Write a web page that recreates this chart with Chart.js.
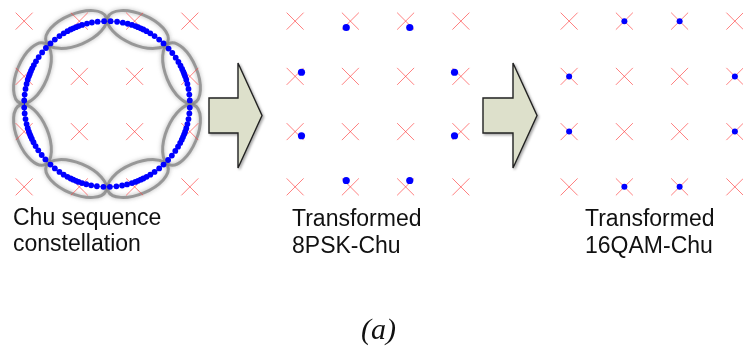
<!DOCTYPE html>
<html>
<head>
<meta charset="utf-8">
<script src="https://cdn.jsdelivr.net/npm/chart.js@4/dist/chart.umd.min.js"></script>
<style>
  html, body { margin: 0; padding: 0; width: 743px; height: 346px; overflow: hidden; background: #fff; }
  .panel { position: absolute; top: 4px; width: 200px; height: 200px; }
  .lbl { position: absolute; font-family: "Liberation Sans", Arial, sans-serif; font-size: 23px; color: #111; white-space: nowrap; }
  .cap { position: absolute; font-family: "Liberation Serif", "Times New Roman", serif; font-style: italic; font-size: 30px; line-height: 34px; color: #111; white-space: nowrap; }
  svg.arrows { position: absolute; left: 0; top: 0; }
</style>
</head>
<body>
<canvas id="c1" class="panel" width="200" height="200" style="left:7px"></canvas>
<canvas id="c2" class="panel" width="200" height="200" style="left:278px"></canvas>
<canvas id="c3" class="panel" width="200" height="200" style="left:552px"></canvas>

<svg class="arrows" width="743" height="346">
  <defs>
    <filter id="sh" x="-20%" y="-20%" width="150%" height="150%">
      <feDropShadow dx="1.5" dy="1.5" stdDeviation="1" flood-color="#000" flood-opacity="0.35"/>
    </filter>
  </defs>
  <polygon points="209,98 238,98 238,63 262,115.5 238,168 238,133 209,133" fill="#dde0cb" stroke="#222" stroke-width="1.4" filter="url(#sh)"/>
  <polygon points="483,98 513,98 513,63 537,115.5 513,168 513,133 483,133" fill="#dde0cb" stroke="#222" stroke-width="1.4" filter="url(#sh)"/>
</svg>

<div class="lbl" style="left:13px; top:205px; line-height:25.5px">Chu sequence<br>constellation</div>
<div class="lbl" style="left:292px; top:205px; line-height:27px">Transformed<br>8PSK-Chu</div>
<div class="lbl" style="left:585px; top:205px; line-height:27px">Transformed<br>16QAM-Chu</div>
<div class="cap" style="left:361px; top:312px">(a)</div>

<script>
// Reference constellation grid (16-point lattice)
const gridLevels = [-3, -1, 1, 3];

// Chu sequence samples: phase angles in degrees on a circle of radius 3
const chuRadius = 3;
const chuAngles = [
  2.5, 6.5, 10.5, 14, 17, 19.5, 21.5, 23, 25, 27.5, 30.5, 34, 38, 42,
  47, 51, 55, 58.5, 61.5, 64, 66, 68, 70, 72.5, 75.5, 79, 83, 87.5,
  92, 96.5, 100.5, 104, 107.5, 110, 112, 114, 116, 118.5, 121.5, 125, 129, 133,
  137.5, 141.5, 145.5, 149, 152, 154.5, 156.5, 158.5, 160.5, 163, 166, 169.5, 173.5, 177.5,
  182.5, 186.5, 190.5, 194, 197, 199.5, 201.5, 203, 205, 207.5, 210.5, 214, 218, 222,
  227, 231, 235, 238.5, 241.5, 244, 246, 248, 250, 252.5, 255.5, 259, 263, 267.5,
  272, 276.5, 280.5, 284, 287.5, 290, 292, 294, 296, 298.5, 301.5, 305, 309, 313,
  317.5, 321.5, 325.5, 329, 332, 334.5, 336.5, 338.5, 340.5, 343, 346, 349.5, 353.5, 357.5
];

// Phase groups highlighted on the Chu circle (centre angle of each group, degrees)
const groupAngles = [22.5, 67.5, 112.5, 157.5, 202.5, 247.5, 292.5, 337.5];

// Transformed 8PSK-Chu points
const pskX = [1.15, 2.77, 2.77, 1.15, -1.15, -2.77, -2.77, -1.15];
const pskY = [2.77, 1.15, -1.15, -2.77, -2.77, -1.15, 1.15, 2.77];

// Transformed 16QAM-Chu points
const qamX = [1, 3, 3, 1, -1, -3, -3, -1];
const qamY = [3, 1, -1, -3, -3, -1, 1, 3];

const gridPoints = [];
gridLevels.forEach(y => gridLevels.forEach(x => gridPoints.push({x, y})));
const chuPoints = chuAngles.map(a => ({
  x: chuRadius * Math.cos(a * Math.PI / 180),
  y: chuRadius * Math.sin(a * Math.PI / 180)
}));
const zip = (xs, ys) => xs.map((x, i) => ({x, y: ys[i]}));

const crossSet = {
  data: gridPoints, pointStyle: 'crossRot', pointRadius: 12, pointBorderWidth: 1,
  pointBorderColor: 'rgba(255,60,60,0.65)', pointBackgroundColor: 'rgba(0,0,0,0)',
  showLine: false, order: 2
};
const dotSet = (pts, r) => ({
  data: pts, pointStyle: 'circle', pointRadius: r, pointBorderWidth: 0,
  pointBackgroundColor: '#0000ff', showLine: false, order: 1
});

// Soft grey ellipses around each phase group, sized in axis units
const groupOutline = {
  id: 'groupOutline',
  beforeDatasetsDraw(chart, args, opts) {
    if (!opts.angles) return;
    const {ctx, scales: {x, y}} = chart;
    const ux = Math.abs(x.getPixelForValue(1) - x.getPixelForValue(0));
    ctx.save();
    ctx.strokeStyle = 'rgba(135,135,135,0.8)';
    ctx.lineWidth = 3;
    ctx.shadowColor = 'rgba(120,120,120,0.7)';
    ctx.shadowBlur = 4;
    opts.angles.forEach(a => {
      const t = a * Math.PI / 180;
      const cx = x.getPixelForValue(opts.r * Math.cos(t));
      const cy = y.getPixelForValue(opts.r * Math.sin(t));
      ctx.beginPath();
      ctx.ellipse(cx, cy, opts.a * ux, opts.b * ux, -t + Math.PI / 2, 0, Math.PI * 2);
      ctx.stroke();
    });
    ctx.restore();
  }
};

function makePanel(id, dataSets, outline) {
  new Chart(document.getElementById(id), {
    type: 'scatter',
    data: { datasets: dataSets },
    options: {
      responsive: false, animation: false, events: [],
      layout: { padding: 0, autoPadding: false },
      scales: {
        x: { type: 'linear', min: -3.62, max: 3.62, display: false },
        y: { type: 'linear', min: -3.62, max: 3.62, display: false }
      },
      plugins: {
        legend: { display: false }, tooltip: { enabled: false },
        groupOutline: outline || {}
      }
    },
    plugins: [groupOutline]
  });
}

makePanel('c1', [
  crossSet,
  Object.assign(dotSet(chuPoints, 2.9), { showLine: true, borderColor: 'rgba(0,0,255,0.6)', borderWidth: 1 })
], { angles: groupAngles, r: 2.92, a: 1.17, b: 0.56 });
makePanel('c2', [crossSet, dotSet(zip(pskX, pskY), 3.6)]);
makePanel('c3', [crossSet, dotSet(zip(qamX, qamY), 3)]);
</script>
</body>
</html>
